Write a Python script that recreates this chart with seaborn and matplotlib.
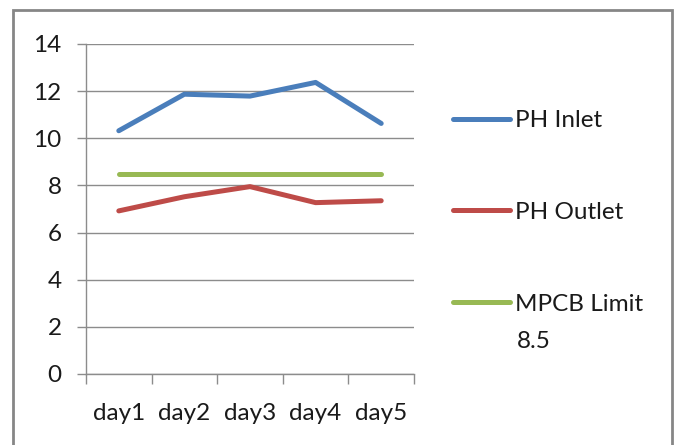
import matplotlib
matplotlib.use("Agg")
import matplotlib.pyplot as plt
import seaborn as sns
import pandas as pd
from matplotlib.patches import Rectangle
from matplotlib.ticker import FixedLocator, NullFormatter, FixedFormatter

days = ["day1", "day2", "day3", "day4", "day5"]
ph_inlet = [10.32, 11.87, 11.79, 12.37, 10.63]
ph_outlet = [6.92, 7.52, 7.95, 7.27, 7.35]
mpcb_limit = [8.5, 8.5, 8.5, 8.5, 8.5]
series_names = ["PH Inlet", "PH Outlet", "MPCB Limit"]
limit_suffix = "8.5"
colors = ["#4A7EBB", "#BE4B48", "#98B954"]
y_ticks = [0, 2, 4, 6, 8, 10, 12, 14]

sns.set_theme(style="white")
plt.rcParams["font.family"] = ["Lato", "DejaVu Sans"]

rows = []
for name, vals in zip(series_names, [ph_inlet, ph_outlet, mpcb_limit]):
    for i, (d, v) in enumerate(zip(days, vals)):
        rows.append({"idx": i, "day": d, "value": v, "series": name})
df = pd.DataFrame(rows)

fig = plt.figure(figsize=(6.81, 4.45), dpi=100)
ax = fig.add_axes([86/681, 1-374/445, (414-86)/681, (374-44)/445])

sns.lineplot(data=df, x="idx", y="value", hue="series", hue_order=series_names,
             palette=colors, linewidth=3.6, ax=ax, legend=False,
             solid_capstyle="round")

ax.set_xlim(-0.5, 4.5)
ax.set_ylim(0, 14)
ax.set_xlabel("")
ax.set_ylabel("")

fs = 17.5
txt = "#1a1a1a"
gray = "#8C8C8C"
ax.yaxis.set_major_locator(FixedLocator(y_ticks))
ax.grid(axis="y", color=gray, linewidth=1.0)
ax.set_axisbelow(True)
ax.xaxis.set_major_locator(FixedLocator([-0.5, 0.5, 1.5, 2.5, 3.5, 4.5]))
ax.xaxis.set_major_formatter(NullFormatter())
ax.xaxis.set_minor_locator(FixedLocator(range(len(days))))
ax.xaxis.set_minor_formatter(FixedFormatter(days))
ax.tick_params(axis="x", which="major", direction="out", length=7, width=1, color=gray, bottom=True)
ax.tick_params(axis="x", which="minor", length=0, pad=21, labelsize=fs, labelcolor=txt, bottom=True)
ax.tick_params(axis="y", direction="out", length=6.5, width=1, color=gray, pad=11,
               labelsize=fs, labelcolor=txt, left=True)
for s in ["top", "right"]:
    ax.spines[s].set_visible(False)
for s in ["left", "bottom"]:
    ax.spines[s].set_color(gray)
    ax.spines[s].set_linewidth(1.0)

handles = [plt.Line2D([], [], color=c, linewidth=3.6, solid_capstyle="round") for c in colors]
leg = fig.legend(handles, series_names, loc="upper left", bbox_to_anchor=(453/681, 1-110/445),
                 frameon=False, fontsize=fs, handlelength=2.35, handletextpad=0.2,
                 labelspacing=2.92, borderpad=0, borderaxespad=0)
for t in leg.get_texts():
    t.set_color(txt)
fig.text(517/681, 1-341/445, limit_suffix, fontsize=fs, color=txt, ha="left", va="center")

fig.patches.append(Rectangle((13/681, -0.05), (672-13)/681, 1.05-10/445,
                             transform=fig.transFigure, fill=False,
                             edgecolor="#868686", linewidth=2.0, zorder=10))

fig.savefig("out.png", dpi=100)
